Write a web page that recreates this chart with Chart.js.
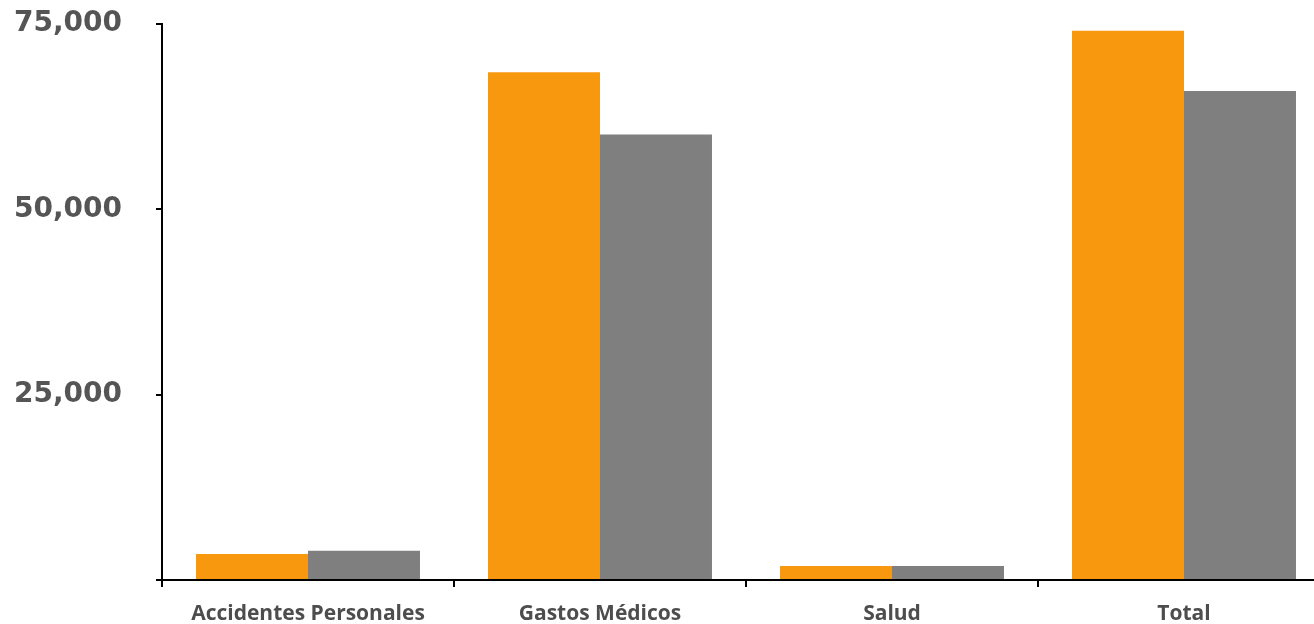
<!DOCTYPE html>
<html>
<head>
<meta charset="utf-8">
<script src="https://cdn.jsdelivr.net/npm/chart.js@4/dist/chart.umd.min.js"></script>
<style>
  html, body { margin: 0; padding: 0; background: #fff; overflow: hidden; }
  #wrap { width: 1340px; height: 624px; position: relative; }
</style>
</head>
<body>
<div id="wrap"><canvas id="myChart"></canvas></div>
<script>
// categories and values
var categories = ["Accidentes Personales", "Gastos Médicos", "Salud", "Total"];
var serieA = [3500, 68500, 1900, 74100];
var serieB = [3950, 60100, 1900, 65950];
var yTicks = [0, 25000, 50000, 75000];

var ctx = document.getElementById('myChart').getContext('2d');
var chart = new Chart(ctx, {
    type: 'bar',
    data: {
        labels: categories,
        datasets: [{
            label: "Serie 1",
            backgroundColor: '#F7980F',
            data: serieA
        }, {
            label: "Serie 2",
            backgroundColor: '#7F7F7F',
            data: serieB
        }]
    },
    options: {
        responsive: true,
        maintainAspectRatio: false,
        animation: false,
        layout: { padding: { top: 24, right: 10, left: 0, bottom: 0 } },
        plugins: {
            legend: { display: false },
            tooltip: { enabled: false }
        },
        datasets: {
            bar: { categoryPercentage: 0.767, barPercentage: 1.0 }
        },
        scales: {
            x: {
                grid: { drawOnChartArea: false, drawTicks: true, tickLength: 7, color: '#000', lineWidth: 2 },
                border: { display: true, color: '#000', width: 2 },
                ticks: {
                    color: '#4d4d4d',
                    padding: 14,
                    font: { family: 'Open Sans', size: 21, weight: 'bold' }
                },
                afterFit: function(s) { s.height = 44; s.paddingLeft = 0; s.paddingRight = 0; }
            },
            y: {
                min: 0,
                max: 75000,
                afterBuildTicks: function(s) { s.ticks = yTicks.map(function(v) { return { value: v }; }); },
                grid: { drawOnChartArea: false, drawTicks: true, tickLength: 6, color: '#000', lineWidth: 2 },
                border: { display: true, color: '#000', width: 2 },
                ticks: {
                    color: '#555',
                    padding: 34,
                    font: { family: 'DejaVu Sans', size: 28, weight: 'bold' },
                    callback: function(v) { return v === 0 ? '' : v.toLocaleString('en-US'); }
                },
                // keep the label padding from pushing the plot area in
                afterFit: function(s) { s.width = 162; s.paddingTop = 0; s.paddingBottom = 0; }
            }
        }
    }
});
</script>
</body>
</html>
